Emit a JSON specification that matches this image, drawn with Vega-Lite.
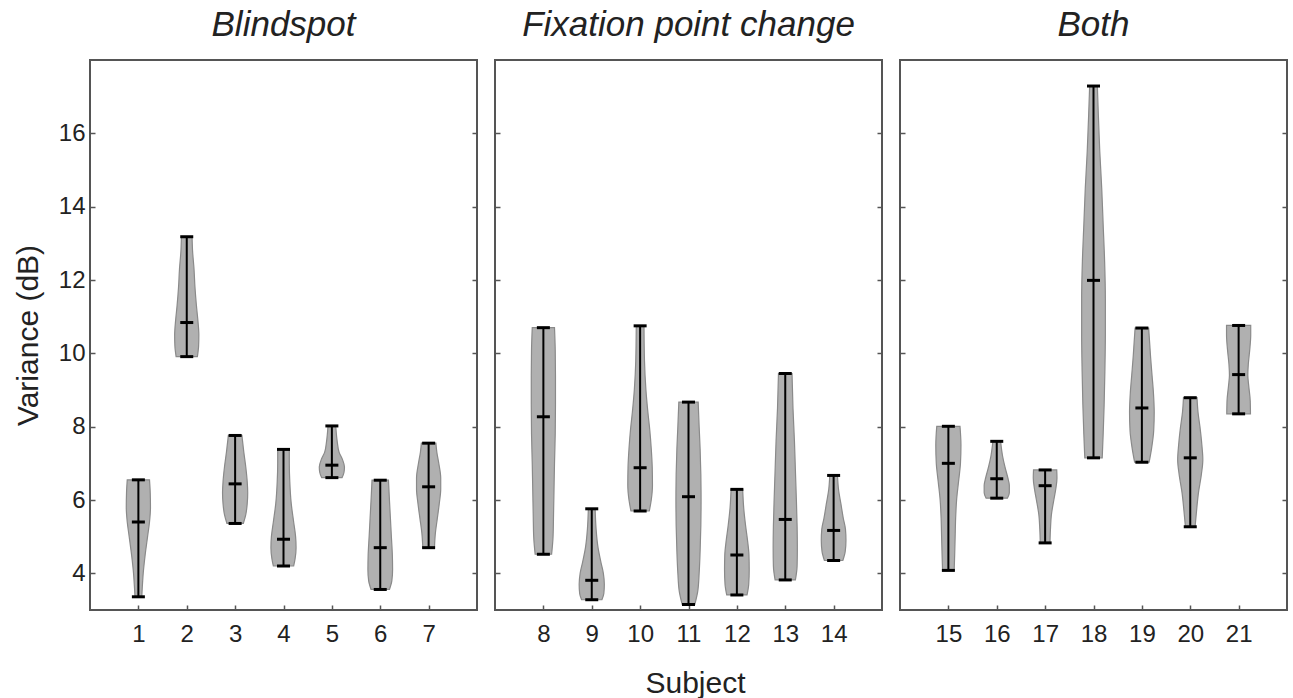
{
  "$schema": "https://vega.github.io/schema/vega-lite/v6.json",
  "background": "white",
  "padding": {"left": 12, "top": 7, "right": 5, "bottom": 5},
  "datasets": {
    "stats": [
      {"subject": 1, "min": 3.36, "med": 5.40, "max": 6.55},
      {"subject": 2, "min": 9.91, "med": 10.84, "max": 13.18},
      {"subject": 3, "min": 5.36, "med": 6.44, "max": 7.76},
      {"subject": 4, "min": 4.20, "med": 4.93, "max": 7.38},
      {"subject": 5, "min": 6.61, "med": 6.95, "max": 8.02},
      {"subject": 6, "min": 3.56, "med": 4.70, "max": 6.54},
      {"subject": 7, "min": 4.70, "med": 6.36, "max": 7.55},
      {"subject": 8, "min": 4.52, "med": 8.27, "max": 10.70},
      {"subject": 9, "min": 3.28, "med": 3.81, "max": 5.76},
      {"subject": 10, "min": 5.70, "med": 6.88, "max": 10.75},
      {"subject": 11, "min": 3.15, "med": 6.09, "max": 8.67},
      {"subject": 12, "min": 3.41, "med": 4.50, "max": 6.29},
      {"subject": 13, "min": 3.82, "med": 5.47, "max": 9.45},
      {"subject": 14, "min": 4.35, "med": 5.17, "max": 6.67},
      {"subject": 15, "min": 4.08, "med": 7.00, "max": 8.01},
      {"subject": 16, "min": 6.05, "med": 6.58, "max": 7.60},
      {"subject": 17, "min": 4.83, "med": 6.39, "max": 6.82},
      {"subject": 18, "min": 7.15, "med": 11.99, "max": 17.29},
      {"subject": 19, "min": 7.03, "med": 8.51, "max": 10.69},
      {"subject": 20, "min": 5.27, "med": 7.15, "max": 8.79},
      {"subject": 21, "min": 8.35, "med": 9.42, "max": 10.76}
    ],
    "shapes": [
      {"subject": 1, "v": 3.36, "w": 0.07}, {"subject": 1, "v": 3.6, "w": 0.08}, {"subject": 1, "v": 4.0, "w": 0.10}, {"subject": 1, "v": 4.5, "w": 0.14}, {"subject": 1, "v": 5.0, "w": 0.19}, {"subject": 1, "v": 5.4, "w": 0.23}, {"subject": 1, "v": 5.8, "w": 0.25}, {"subject": 1, "v": 6.2, "w": 0.245}, {"subject": 1, "v": 6.55, "w": 0.23},
      {"subject": 2, "v": 9.91, "w": 0.22}, {"subject": 2, "v": 10.2, "w": 0.245}, {"subject": 2, "v": 10.5, "w": 0.25}, {"subject": 2, "v": 10.9, "w": 0.23}, {"subject": 2, "v": 11.3, "w": 0.2}, {"subject": 2, "v": 11.8, "w": 0.17}, {"subject": 2, "v": 12.3, "w": 0.15}, {"subject": 2, "v": 12.8, "w": 0.12}, {"subject": 2, "v": 13.18, "w": 0.11},
      {"subject": 3, "v": 5.36, "w": 0.17}, {"subject": 3, "v": 5.6, "w": 0.22}, {"subject": 3, "v": 5.9, "w": 0.25}, {"subject": 3, "v": 6.2, "w": 0.26}, {"subject": 3, "v": 6.5, "w": 0.25}, {"subject": 3, "v": 6.9, "w": 0.22}, {"subject": 3, "v": 7.3, "w": 0.18}, {"subject": 3, "v": 7.76, "w": 0.14},
      {"subject": 4, "v": 4.2, "w": 0.21}, {"subject": 4, "v": 4.4, "w": 0.24}, {"subject": 4, "v": 4.7, "w": 0.26}, {"subject": 4, "v": 5.0, "w": 0.25}, {"subject": 4, "v": 5.4, "w": 0.21}, {"subject": 4, "v": 5.9, "w": 0.16}, {"subject": 4, "v": 6.5, "w": 0.13}, {"subject": 4, "v": 7.0, "w": 0.12}, {"subject": 4, "v": 7.38, "w": 0.12},
      {"subject": 5, "v": 6.61, "w": 0.21}, {"subject": 5, "v": 6.75, "w": 0.25}, {"subject": 5, "v": 6.9, "w": 0.26}, {"subject": 5, "v": 7.1, "w": 0.22}, {"subject": 5, "v": 7.3, "w": 0.15}, {"subject": 5, "v": 7.6, "w": 0.11}, {"subject": 5, "v": 8.02, "w": 0.08},
      {"subject": 6, "v": 3.56, "w": 0.19}, {"subject": 6, "v": 3.8, "w": 0.24}, {"subject": 6, "v": 4.1, "w": 0.255}, {"subject": 6, "v": 4.5, "w": 0.25}, {"subject": 6, "v": 5.0, "w": 0.23}, {"subject": 6, "v": 5.5, "w": 0.21}, {"subject": 6, "v": 6.0, "w": 0.19}, {"subject": 6, "v": 6.54, "w": 0.17},
      {"subject": 7, "v": 4.7, "w": 0.12}, {"subject": 7, "v": 5.1, "w": 0.14}, {"subject": 7, "v": 5.5, "w": 0.18}, {"subject": 7, "v": 5.9, "w": 0.22}, {"subject": 7, "v": 6.3, "w": 0.25}, {"subject": 7, "v": 6.6, "w": 0.25}, {"subject": 7, "v": 7.0, "w": 0.21}, {"subject": 7, "v": 7.3, "w": 0.17}, {"subject": 7, "v": 7.55, "w": 0.15},
      {"subject": 8, "v": 4.52, "w": 0.17}, {"subject": 8, "v": 5.0, "w": 0.2}, {"subject": 8, "v": 5.6, "w": 0.21}, {"subject": 8, "v": 6.3, "w": 0.22}, {"subject": 8, "v": 7.0, "w": 0.23}, {"subject": 8, "v": 7.8, "w": 0.245}, {"subject": 8, "v": 8.6, "w": 0.25}, {"subject": 8, "v": 9.4, "w": 0.25}, {"subject": 8, "v": 10.1, "w": 0.245}, {"subject": 8, "v": 10.7, "w": 0.23},
      {"subject": 9, "v": 3.28, "w": 0.21}, {"subject": 9, "v": 3.45, "w": 0.25}, {"subject": 9, "v": 3.7, "w": 0.26}, {"subject": 9, "v": 4.0, "w": 0.24}, {"subject": 9, "v": 4.3, "w": 0.19}, {"subject": 9, "v": 4.7, "w": 0.13}, {"subject": 9, "v": 5.2, "w": 0.09}, {"subject": 9, "v": 5.76, "w": 0.07},
      {"subject": 10, "v": 5.7, "w": 0.19}, {"subject": 10, "v": 6.0, "w": 0.23}, {"subject": 10, "v": 6.4, "w": 0.255}, {"subject": 10, "v": 6.9, "w": 0.25}, {"subject": 10, "v": 7.4, "w": 0.23}, {"subject": 10, "v": 7.9, "w": 0.2}, {"subject": 10, "v": 8.4, "w": 0.16}, {"subject": 10, "v": 9.0, "w": 0.12}, {"subject": 10, "v": 9.8, "w": 0.09}, {"subject": 10, "v": 10.75, "w": 0.08},
      {"subject": 11, "v": 3.15, "w": 0.13}, {"subject": 11, "v": 3.5, "w": 0.19}, {"subject": 11, "v": 4.0, "w": 0.22}, {"subject": 11, "v": 4.6, "w": 0.24}, {"subject": 11, "v": 5.3, "w": 0.255}, {"subject": 11, "v": 6.0, "w": 0.26}, {"subject": 11, "v": 6.7, "w": 0.255}, {"subject": 11, "v": 7.4, "w": 0.24}, {"subject": 11, "v": 8.0, "w": 0.22}, {"subject": 11, "v": 8.67, "w": 0.2},
      {"subject": 12, "v": 3.41, "w": 0.21}, {"subject": 12, "v": 3.7, "w": 0.245}, {"subject": 12, "v": 4.1, "w": 0.255}, {"subject": 12, "v": 4.5, "w": 0.25}, {"subject": 12, "v": 4.9, "w": 0.22}, {"subject": 12, "v": 5.3, "w": 0.18}, {"subject": 12, "v": 5.8, "w": 0.14}, {"subject": 12, "v": 6.29, "w": 0.12},
      {"subject": 13, "v": 3.82, "w": 0.21}, {"subject": 13, "v": 4.2, "w": 0.245}, {"subject": 13, "v": 4.7, "w": 0.25}, {"subject": 13, "v": 5.3, "w": 0.245}, {"subject": 13, "v": 6.0, "w": 0.23}, {"subject": 13, "v": 6.8, "w": 0.21}, {"subject": 13, "v": 7.6, "w": 0.19}, {"subject": 13, "v": 8.5, "w": 0.16}, {"subject": 13, "v": 9.45, "w": 0.14},
      {"subject": 14, "v": 4.35, "w": 0.19}, {"subject": 14, "v": 4.6, "w": 0.24}, {"subject": 14, "v": 4.9, "w": 0.255}, {"subject": 14, "v": 5.2, "w": 0.245}, {"subject": 14, "v": 5.5, "w": 0.2}, {"subject": 14, "v": 5.9, "w": 0.15}, {"subject": 14, "v": 6.3, "w": 0.1}, {"subject": 14, "v": 6.67, "w": 0.08},
      {"subject": 15, "v": 4.08, "w": 0.12}, {"subject": 15, "v": 4.5, "w": 0.13}, {"subject": 15, "v": 5.0, "w": 0.14}, {"subject": 15, "v": 5.5, "w": 0.15}, {"subject": 15, "v": 6.0, "w": 0.17}, {"subject": 15, "v": 6.5, "w": 0.21}, {"subject": 15, "v": 7.0, "w": 0.25}, {"subject": 15, "v": 7.5, "w": 0.26}, {"subject": 15, "v": 8.01, "w": 0.24},
      {"subject": 16, "v": 6.05, "w": 0.22}, {"subject": 16, "v": 6.2, "w": 0.26}, {"subject": 16, "v": 6.4, "w": 0.26}, {"subject": 16, "v": 6.6, "w": 0.23}, {"subject": 16, "v": 6.9, "w": 0.17}, {"subject": 16, "v": 7.2, "w": 0.12}, {"subject": 16, "v": 7.6, "w": 0.08},
      {"subject": 17, "v": 4.83, "w": 0.1}, {"subject": 17, "v": 5.2, "w": 0.11}, {"subject": 17, "v": 5.6, "w": 0.13}, {"subject": 17, "v": 6.0, "w": 0.18}, {"subject": 17, "v": 6.3, "w": 0.22}, {"subject": 17, "v": 6.6, "w": 0.245}, {"subject": 17, "v": 6.82, "w": 0.24},
      {"subject": 18, "v": 7.15, "w": 0.18}, {"subject": 18, "v": 7.8, "w": 0.2}, {"subject": 18, "v": 8.6, "w": 0.22}, {"subject": 18, "v": 9.5, "w": 0.235}, {"subject": 18, "v": 10.5, "w": 0.245}, {"subject": 18, "v": 11.5, "w": 0.245}, {"subject": 18, "v": 12.5, "w": 0.23}, {"subject": 18, "v": 13.5, "w": 0.2}, {"subject": 18, "v": 14.5, "w": 0.17}, {"subject": 18, "v": 15.5, "w": 0.13}, {"subject": 18, "v": 16.5, "w": 0.1}, {"subject": 18, "v": 17.29, "w": 0.08},
      {"subject": 19, "v": 7.03, "w": 0.15}, {"subject": 19, "v": 7.4, "w": 0.2}, {"subject": 19, "v": 7.9, "w": 0.245}, {"subject": 19, "v": 8.4, "w": 0.255}, {"subject": 19, "v": 8.9, "w": 0.24}, {"subject": 19, "v": 9.4, "w": 0.21}, {"subject": 19, "v": 9.9, "w": 0.18}, {"subject": 19, "v": 10.3, "w": 0.16}, {"subject": 19, "v": 10.69, "w": 0.14},
      {"subject": 20, "v": 5.27, "w": 0.1}, {"subject": 20, "v": 5.7, "w": 0.13}, {"subject": 20, "v": 6.2, "w": 0.17}, {"subject": 20, "v": 6.7, "w": 0.23}, {"subject": 20, "v": 7.1, "w": 0.26}, {"subject": 20, "v": 7.5, "w": 0.24}, {"subject": 20, "v": 8.0, "w": 0.2}, {"subject": 20, "v": 8.4, "w": 0.16}, {"subject": 20, "v": 8.79, "w": 0.14},
      {"subject": 21, "v": 8.35, "w": 0.245}, {"subject": 21, "v": 8.7, "w": 0.24}, {"subject": 21, "v": 9.1, "w": 0.21}, {"subject": 21, "v": 9.4, "w": 0.19}, {"subject": 21, "v": 9.7, "w": 0.2}, {"subject": 21, "v": 10.1, "w": 0.23}, {"subject": 21, "v": 10.5, "w": 0.25}, {"subject": 21, "v": 10.76, "w": 0.25}
    ]
  },
  "hconcat": [
    {
      "width": 387, "height": 550,
      "title": {"text": "Blindspot"},
      "layer": [
        {"data": {"name": "shapes"},
         "transform": [{"filter": "datum.subject <= 7"}, {"calculate": "datum.subject - datum.w", "as": "lo"}, {"calculate": "datum.subject + datum.w", "as": "hi"}],
         "mark": {"type": "area", "orient": "horizontal", "interpolate": "monotone", "fill": "#b0b0b0", "stroke": "#8a8a8a", "strokeWidth": 1.2, "opacity": 1},
         "encoding": {
           "y": {"field": "v", "type": "quantitative", "scale": {"domain": [3, 18], "nice": false, "zero": false},
                 "axis": {"orient": "left", "values": [4, 6, 8, 10, 12, 14, 16], "title": "Variance (dB)", "titlePadding": 15, "labelPadding": 10}},
           "x": {"field": "lo", "type": "quantitative", "stack": null, "scale": {"domain": [0, 8], "nice": false, "zero": false},
                 "axis": {"values": [1, 2, 3, 4, 5, 6, 7], "title": null}},
           "x2": {"field": "hi"},
           "detail": {"field": "subject", "type": "nominal"}
         }},
        {"data": {"name": "stats"}, "transform": [{"filter": "datum.subject <= 7"}],
         "mark": {"type": "rule", "color": "#000000", "strokeWidth": 2},
         "encoding": {
           "x": {"field": "subject", "type": "quantitative", "axis": {"values": [1, 2, 3, 4, 5, 6, 7], "title": null}},
           "y": {"field": "min", "type": "quantitative", "axis": {"orient": "right", "values": [4, 6, 8, 10, 12, 14, 16], "labels": false, "title": null}},
           "y2": {"field": "max"}
         }},
        {"data": {"name": "stats"}, "transform": [{"filter": "datum.subject <= 7"}],
         "mark": {"type": "tick", "orient": "horizontal", "color": "#000000", "size": 13, "thickness": 3, "opacity": 1},
         "encoding": {"x": {"field": "subject", "type": "quantitative", "axis": {"values": [1, 2, 3, 4, 5, 6, 7], "title": null}}, "y": {"field": "min", "type": "quantitative", "axis": null}}},
        {"data": {"name": "stats"}, "transform": [{"filter": "datum.subject <= 7"}],
         "mark": {"type": "tick", "orient": "horizontal", "color": "#000000", "size": 13, "thickness": 3, "opacity": 1},
         "encoding": {"x": {"field": "subject", "type": "quantitative", "axis": {"values": [1, 2, 3, 4, 5, 6, 7], "title": null}}, "y": {"field": "med", "type": "quantitative", "axis": null}}},
        {"data": {"name": "stats"}, "transform": [{"filter": "datum.subject <= 7"}],
         "mark": {"type": "tick", "orient": "horizontal", "color": "#000000", "size": 13, "thickness": 3, "opacity": 1},
         "encoding": {"x": {"field": "subject", "type": "quantitative", "axis": {"values": [1, 2, 3, 4, 5, 6, 7], "title": null}}, "y": {"field": "max", "type": "quantitative", "axis": null}}}
      ],
      "resolve": {"axis": {"y": "independent"}}
    },
    {
      "width": 387, "height": 550,
      "title": {"text": "Fixation point change"},
      "layer": [
        {"data": {"name": "shapes"},
         "transform": [{"filter": "datum.subject >= 8 && datum.subject <= 14"}, {"calculate": "datum.subject - datum.w", "as": "lo"}, {"calculate": "datum.subject + datum.w", "as": "hi"}],
         "mark": {"type": "area", "orient": "horizontal", "interpolate": "monotone", "fill": "#b0b0b0", "stroke": "#8a8a8a", "strokeWidth": 1.2, "opacity": 1},
         "encoding": {
           "y": {"field": "v", "type": "quantitative", "scale": {"domain": [3, 18], "nice": false, "zero": false},
                 "axis": {"orient": "left", "values": [4, 6, 8, 10, 12, 14, 16], "labels": false, "title": null}},
           "x": {"field": "lo", "type": "quantitative", "stack": null, "scale": {"domain": [7, 15], "nice": false, "zero": false},
                 "axis": {"values": [8, 9, 10, 11, 12, 13, 14], "title": "Subject", "titleX": 200}},
           "x2": {"field": "hi"},
           "detail": {"field": "subject", "type": "nominal"}
         }},
        {"data": {"name": "stats"}, "transform": [{"filter": "datum.subject >= 8 && datum.subject <= 14"}],
         "mark": {"type": "rule", "color": "#000000", "strokeWidth": 2},
         "encoding": {
           "x": {"field": "subject", "type": "quantitative", "axis": {"values": [8, 9, 10, 11, 12, 13, 14], "title": "Subject", "titleX": 200}},
           "y": {"field": "min", "type": "quantitative", "axis": {"orient": "right", "values": [4, 6, 8, 10, 12, 14, 16], "labels": false, "title": null}},
           "y2": {"field": "max"}
         }},
        {"data": {"name": "stats"}, "transform": [{"filter": "datum.subject >= 8 && datum.subject <= 14"}],
         "mark": {"type": "tick", "orient": "horizontal", "color": "#000000", "size": 13, "thickness": 3, "opacity": 1},
         "encoding": {"x": {"field": "subject", "type": "quantitative", "axis": {"values": [8, 9, 10, 11, 12, 13, 14], "title": "Subject", "titleX": 200}}, "y": {"field": "min", "type": "quantitative", "axis": null}}},
        {"data": {"name": "stats"}, "transform": [{"filter": "datum.subject >= 8 && datum.subject <= 14"}],
         "mark": {"type": "tick", "orient": "horizontal", "color": "#000000", "size": 13, "thickness": 3, "opacity": 1},
         "encoding": {"x": {"field": "subject", "type": "quantitative", "axis": {"values": [8, 9, 10, 11, 12, 13, 14], "title": "Subject", "titleX": 200}}, "y": {"field": "med", "type": "quantitative", "axis": null}}},
        {"data": {"name": "stats"}, "transform": [{"filter": "datum.subject >= 8 && datum.subject <= 14"}],
         "mark": {"type": "tick", "orient": "horizontal", "color": "#000000", "size": 13, "thickness": 3, "opacity": 1},
         "encoding": {"x": {"field": "subject", "type": "quantitative", "axis": {"values": [8, 9, 10, 11, 12, 13, 14], "title": "Subject", "titleX": 200}}, "y": {"field": "max", "type": "quantitative", "axis": null}}}
      ],
      "resolve": {"axis": {"y": "independent"}}
    },
    {
      "width": 387, "height": 550,
      "title": {"text": "Both"},
      "layer": [
        {"data": {"name": "shapes"},
         "transform": [{"filter": "datum.subject >= 15"}, {"calculate": "datum.subject - datum.w", "as": "lo"}, {"calculate": "datum.subject + datum.w", "as": "hi"}],
         "mark": {"type": "area", "orient": "horizontal", "interpolate": "monotone", "fill": "#b0b0b0", "stroke": "#8a8a8a", "strokeWidth": 1.2, "opacity": 1},
         "encoding": {
           "y": {"field": "v", "type": "quantitative", "scale": {"domain": [3, 18], "nice": false, "zero": false},
                 "axis": {"orient": "left", "values": [4, 6, 8, 10, 12, 14, 16], "labels": false, "title": null}},
           "x": {"field": "lo", "type": "quantitative", "stack": null, "scale": {"domain": [14, 22], "nice": false, "zero": false},
                 "axis": {"values": [15, 16, 17, 18, 19, 20, 21], "title": null}},
           "x2": {"field": "hi"},
           "detail": {"field": "subject", "type": "nominal"}
         }},
        {"data": {"name": "stats"}, "transform": [{"filter": "datum.subject >= 15"}],
         "mark": {"type": "rule", "color": "#000000", "strokeWidth": 2},
         "encoding": {
           "x": {"field": "subject", "type": "quantitative", "axis": {"values": [15, 16, 17, 18, 19, 20, 21], "title": null}},
           "y": {"field": "min", "type": "quantitative", "axis": {"orient": "right", "values": [4, 6, 8, 10, 12, 14, 16], "labels": false, "title": null}},
           "y2": {"field": "max"}
         }},
        {"data": {"name": "stats"}, "transform": [{"filter": "datum.subject >= 15"}],
         "mark": {"type": "tick", "orient": "horizontal", "color": "#000000", "size": 13, "thickness": 3, "opacity": 1},
         "encoding": {"x": {"field": "subject", "type": "quantitative", "axis": {"values": [15, 16, 17, 18, 19, 20, 21], "title": null}}, "y": {"field": "min", "type": "quantitative", "axis": null}}},
        {"data": {"name": "stats"}, "transform": [{"filter": "datum.subject >= 15"}],
         "mark": {"type": "tick", "orient": "horizontal", "color": "#000000", "size": 13, "thickness": 3, "opacity": 1},
         "encoding": {"x": {"field": "subject", "type": "quantitative", "axis": {"values": [15, 16, 17, 18, 19, 20, 21], "title": null}}, "y": {"field": "med", "type": "quantitative", "axis": null}}},
        {"data": {"name": "stats"}, "transform": [{"filter": "datum.subject >= 15"}],
         "mark": {"type": "tick", "orient": "horizontal", "color": "#000000", "size": 13, "thickness": 3, "opacity": 1},
         "encoding": {"x": {"field": "subject", "type": "quantitative", "axis": {"values": [15, 16, 17, 18, 19, 20, 21], "title": null}}, "y": {"field": "max", "type": "quantitative", "axis": null}}}
      ],
      "resolve": {"axis": {"y": "independent"}}
    }
  ],
  "spacing": 18,
  "bounds": "flush",
  "config": {
    "font": "Liberation Sans",
    "view": {"stroke": "#555555", "strokeWidth": 2},
    "title": {"fontSize": 35, "fontStyle": "italic", "fontWeight": "normal", "color": "#222222", "offset": 17},
    "axis": {
      "domain": false, "grid": false, "tickSize": -5, "tickColor": "#555555", "tickWidth": 1.5,
      "labelFontSize": 24, "labelColor": "#222222", "titleFontSize": 30, "titleColor": "#222222", "titleFontWeight": "normal",
      "minExtent": 0
    },
    "axisX": {"labelPadding": 17, "titlePadding": 22},
    "axisY": {"labelPadding": 10}
  }
}
